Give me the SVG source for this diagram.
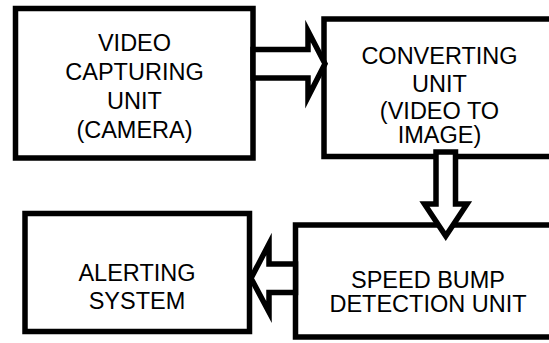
<svg xmlns="http://www.w3.org/2000/svg" width="549" height="343" viewBox="0 0 549 343">
<style>
.box{fill:#fff;stroke:#000;stroke-width:5.5}
.arr{fill:#fff;stroke:#000;stroke-width:5.5;stroke-linejoin:miter;stroke-miterlimit:10}
text{font-family:"Liberation Sans",Arial,sans-serif;font-size:23.5px;fill:#000;text-anchor:middle}
</style>
<rect width="549" height="343" fill="#fff"/>
<g id="video-capturing-unit">
<rect class="box" x="15.5" y="8.5" width="237.5" height="149.5"/>
<text x="134.5" y="51">VIDEO</text>
<text x="134.5" y="80">CAPTURING</text>
<text x="134.5" y="109">UNIT</text>
<text x="134.5" y="138">(CAMERA)</text>
</g>
<g id="converting-unit">
<rect class="box" x="324" y="19" width="240" height="137.5"/>
<text x="439.5" y="64">CONVERTING</text>
<text x="439.5" y="91.5">UNIT</text>
<text x="439.5" y="119">(VIDEO TO</text>
<text x="439.5" y="143">IMAGE)</text>
</g>
<g id="alerting-system">
<rect class="box" x="25" y="213.5" width="224.5" height="118"/>
<text x="137" y="281">ALERTING</text>
<text x="137" y="309">SYSTEM</text>
</g>
<g id="speed-bump-detection-unit">
<rect class="box" x="295.5" y="225" width="270" height="112"/>
<text x="428" y="288">SPEED BUMP</text>
<text x="428" y="312">DETECTION UNIT</text>
</g>
<g id="connectors">
<polygon class="arr" points="253,49.5 308,49.5 308,31 325,63.75 308,97 308,78 253,78"/>
<polygon class="arr" points="436,152 455.5,152 455.5,204 467,204 445.75,236 424.5,204 436,204"/>
<polygon class="arr" points="295.5,264 269,264 269,244 251,278.25 269,312 269,292.5 295.5,292.5"/>
</g>
</svg>
